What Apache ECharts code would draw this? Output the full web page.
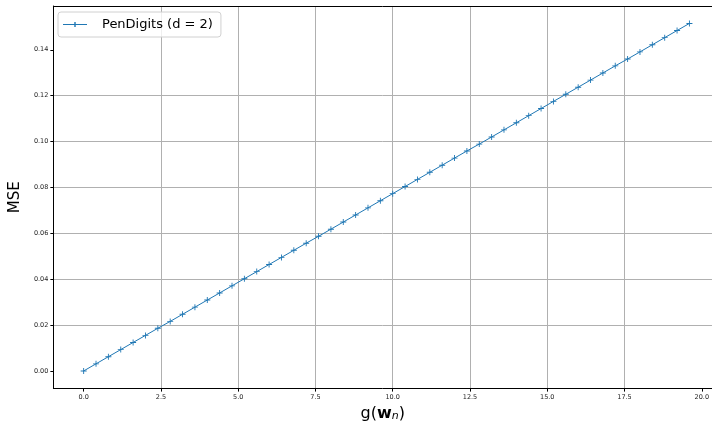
<!DOCTYPE html>
<html><head><meta charset="utf-8">
<script src="https://cdn.jsdelivr.net/npm/echarts@6/dist/echarts.min.js"></script>
<style>html,body{margin:0;padding:0;background:#fff;overflow:hidden}#c{width:712px;height:427px}</style>
</head><body><div id="c"></div>
<script>
const xValues = [0,0.4,0.8,1.2,1.6,2.0,2.4,2.8,3.2,3.6,4.0,4.4,4.8,5.2,5.6,6.0,6.4,6.8,7.2,7.6,8.0,8.4,8.8,9.2,9.6,10.0,10.4,10.8,11.2,11.6,12.0,12.4,12.8,13.2,13.6,14.0,14.4,14.8,15.2,15.6,16.0,16.4,16.8,17.2,17.6,18.0,18.4,18.8,19.2,19.6];
const mseValues = [0,0.0031,0.0062,0.0093,0.0124,0.0155,0.0186,0.0216,0.0247,0.0278,0.0309,0.0340,0.0371,0.0402,0.0433,0.0464,0.0495,0.0526,0.0557,0.0587,0.0618,0.0649,0.0680,0.0711,0.0742,0.0773,0.0804,0.0835,0.0866,0.0897,0.0928,0.0959,0.0989,0.1020,0.1051,0.1082,0.1113,0.1144,0.1175,0.1206,0.1237,0.1268,0.1299,0.1330,0.1360,0.1391,0.1422,0.1453,0.1484,0.1515];
const seriesName = 'PenDigits (d = 2)';
const xTicks = [0, 2.5, 5, 7.5, 10, 12.5, 15, 17.5, 20];
const yTicks = [0, 0.02, 0.04, 0.06, 0.08, 0.10, 0.12, 0.14];

const chart = echarts.init(document.getElementById('c'), null, {renderer: 'canvas'});
const plus = 'path://M4.25,0H5.75V4.25H10V5.75H5.75V10H4.25V5.75H0V4.25H4.25Z';
const xMin = -0.98, xMax = 20.33;
chart.setOption({
  animation: false,
  textStyle: {fontFamily: 'DejaVu Sans'},
  grid: {left: 52, top: 6, right: 0, bottom: 36},
  legend: {
    left: 58, top: 12, padding: [6, 8, 6, 5],
    borderColor: '#d0d0d0', borderWidth: 1, borderRadius: 3, backgroundColor: 'rgba(255,255,255,0.8)',
    itemWidth: 24, itemHeight: 5, itemGap: 10,
    textStyle: {fontSize: 13, color: '#000', fontFamily: 'DejaVu Sans', padding: [0, 0, 0, 10]},
    data: [{name: seriesName, icon: 'path://M0,2H11.3V0H12.7V2H24V3H12.7V5H11.3V3H0Z'}]
  },
  xAxis: [{
    type: 'value', min: xMin, max: xMax,
    name: '{g|g(}{w|w}{n|n}{g|)}', nameLocation: 'middle', nameGap: 15,
    nameTextStyle: {rich: {
      g: {fontSize: 16, fontFamily: 'DejaVu Sans', color: '#000'},
      w: {fontSize: 16, fontWeight: 'bold', fontFamily: 'DejaVu Sans', color: '#000'},
      n: {fontSize: 11, fontStyle: 'italic', fontFamily: 'DejaVu Sans', color: '#000', verticalAlign: 'bottom', padding: [6, 0, 0, 0]}
    }},
    axisLine: {show: true, onZero: false, lineStyle: {color: '#000', width: 1}},
    axisTick: {show: true, length: 3, customValues: xTicks, lineStyle: {color: '#000'}},
    axisLabel: {fontSize: 6.5, color: '#222', margin: 5, customValues: xTicks, formatter: v => v.toFixed(1)},
    splitLine: {show: true, showMinLine: false, showMaxLine: false, lineStyle: {color: '#b0b0b0', width: 1}}
  }, {
    type: 'value', position: 'top', min: xMin, max: xMax,
    axisLine: {show: true, onZero: false, lineStyle: {color: '#000', width: 1}},
    axisTick: {show: false}, axisLabel: {show: false}, splitLine: {show: false}
  }],
  yAxis: {
    type: 'value', min: -0.0077, max: 0.1591,
    name: 'MSE', nameLocation: 'middle', nameGap: 25, nameRotate: 90,
    nameTextStyle: {fontSize: 15, color: '#000', fontFamily: 'DejaVu Sans'},
    axisLine: {show: true, onZero: false, lineStyle: {color: '#000', width: 1}},
    axisTick: {show: true, length: 3, customValues: yTicks, lineStyle: {color: '#000'}},
    axisLabel: {fontSize: 6.5, color: '#222', margin: 5, customValues: yTicks, formatter: v => v.toFixed(2)},
    splitLine: {show: true, showMinLine: false, showMaxLine: false, lineStyle: {color: '#b0b0b0', width: 1}}
  },
  series: [{
    name: seriesName, type: 'line', xAxisIndex: 0,
    data: xValues.map((x, i) => [x, mseValues[i]]),
    symbol: plus, symbolSize: 6, showSymbol: true,
    lineStyle: {color: '#1f77b4', width: 1},
    itemStyle: {color: '#1f77b4'}
  }]
});
</script></body></html>
